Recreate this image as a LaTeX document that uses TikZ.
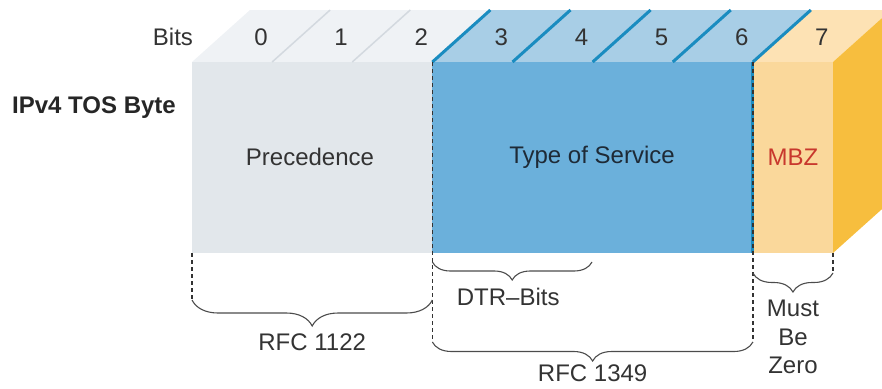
\documentclass[tikz,border=0pt]{standalone}
\usepackage{fontspec}
\setmainfont{Liberation Sans}
\usetikzlibrary{positioning, decorations.pathreplacing}

\definecolor{prectop}{HTML}{EFF2F5}
\definecolor{precfront}{HTML}{E2E7EB}
\definecolor{precline}{HTML}{D3D9DF}
\definecolor{tostop}{HTML}{A8CEE6}
\definecolor{tosfront}{HTML}{6BB0DB}
\definecolor{tosline}{HTML}{1A8CC0}
\definecolor{tostext}{HTML}{1E2A36}
\definecolor{mbztop}{HTML}{FDE2B4}
\definecolor{mbzfront}{HTML}{FAD89B}
\definecolor{mbzside}{HTML}{F7BE3E}
\definecolor{mbzred}{HTML}{C8382D}
\definecolor{txtgray}{HTML}{333333}

\begin{document}
\begin{tikzpicture}[x=1pt, y=-1pt]
	\tikzset{lbl/.style={font=\fontsize{24}{28.5}\selectfont, text=txtgray, inner sep=0pt},
		bitline/.style={line width=3pt, draw=tosline},
		cut/.style={dash pattern=on 4pt off 3pt, line width=1.3pt, draw=black!80},
		brc/.style={decorate, decoration={brace, mirror, amplitude=#1}, line width=1.1pt, draw=black!70}}

	\useasboundingbox (0,0) rectangle (882,388);
	\clip (0,0) rectangle (882,388);

	% bit boundaries, front face top and bottom
	\foreach \i in {0,...,8} {
		\coordinate (f\i) at (192+80.125*\i, 62);
		\coordinate (b\i) at (192+80.125*\i, 253);
	}

	% top faces
	\fill[prectop] (f0) -- ++(58,-52) -- ++(240.375,0) -- (f3) -- cycle;
	\fill[tostop]  (f3) -- ++(58,-52) -- ++(320.5,0) -- (f7) -- cycle;
	\fill[mbztop]  (f7) -- ++(58,-52) -- ++(80.125,0) -- (f8) -- cycle;
	% side face
	\fill[mbzside] (f8) -- ++(58,-52) -- ++(0,191) -- (b8) -- cycle;
	% front faces
	\fill[precfront] (f0) rectangle (b3);
	\fill[tosfront]  (f3) rectangle (b7);
	\fill[mbzfront]  (f7) rectangle (b8);

	% dividers on top
	\foreach \i in {1,2} \draw[precline, line width=1.5pt] (f\i) -- ++(58,-52);
	\foreach \i in {3,...,7} \draw[bitline] (f\i) -- ++(58,-52);
	\draw[bitline] (f7) -- (b7);

	% bit numbers
	\foreach \i in {0,...,7} \node[lbl] (bit\i) at (192+80.125*\i+69, 37) {\i};
	\node[lbl, left=61pt of bit0] (bitsLbl) {Bits};
	\node[lbl, font=\fontsize{24}{28.5}\selectfont\bfseries, text=black!85] (byteLbl) at (94,108) {IPv4 TOS Byte};

	% field names
	\node[lbl] (prec) at (310,157) {Precedence};
	\node[lbl, text=tostext] (tos) at (592,157) {Type of Service};
	\node[lbl, text=mbzred] (mbz) at (793,157) {MBZ};

	% cut lines
	\coordinate (c0) at (192,300);
	\coordinate (c3) at (432.375,300);
	\coordinate (d3) at (432.375,262);
	\coordinate (d5) at (592,262);
	\coordinate (e3) at (432.375,342);
	\coordinate (e7) at (752.875,342);
	\coordinate (g7) at (752.875,273);
	\coordinate (g8) at (833,273);
	\draw[cut] (b0) -- (c0);
	\draw[cut] (f3) -- (e3);
	\draw[cut] (f7) -- (e7);
	\draw[cut] (b8) -- (g8);

	% braces
	\draw[brc=26] (c0) -- (c3) coordinate[midway] (m1);
	\draw[brc=18] (d3) -- (d5) coordinate[midway] (m2);
	\draw[brc=19] (e3) -- (e7) coordinate[midway] (m3);
	\draw[brc=19] (g7) -- (g8) coordinate[midway] (m4);

	\node[lbl, below=34pt of m1] (rfcA) {RFC 1122};
	\node[lbl, below=26pt of m2, xshift=-4pt] (dtr) {DTR--Bits};
	\node[lbl, below=23pt of m3] (rfcB) {RFC 1349};
	\node[lbl, below=27pt of m4, align=center] (mbz2) {Must\\Be\\Zero};
\end{tikzpicture}
\end{document}
